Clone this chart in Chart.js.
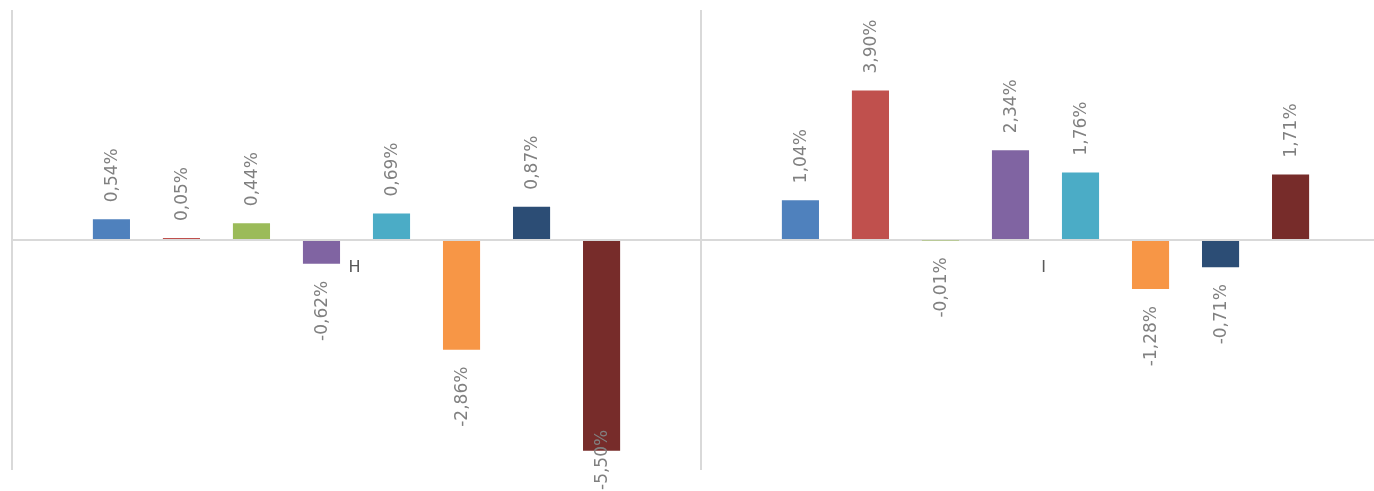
<!DOCTYPE html>
<html>
<head>
<meta charset="utf-8">
<script src="https://cdn.jsdelivr.net/npm/chart.js@4/dist/chart.umd.min.js"></script>
<style>
  html, body { margin: 0; padding: 0; background: #ffffff; overflow: hidden; }
  #wrap { position: relative; width: 1390px; height: 491px; }
</style>
</head>
<body>
<div id="wrap"><canvas id="c"></canvas></div>
<script>
const categories = ['H', 'I'];
const seriesNames = ['Série 1', 'Série 2', 'Série 3', 'Série 4', 'Série 5', 'Série 6', 'Série 7', 'Série 8'];
const s1 = [0.54, 1.04];
const s2 = [0.05, 3.90];
const s3 = [0.44, -0.01];
const s4 = [-0.62, 2.34];
const s5 = [0.69, 1.76];
const s6 = [-2.86, -1.28];
const s7 = [0.87, -0.71];
const s8 = [-5.50, 1.71];
const seriesValues = [s1, s2, s3, s4, s5, s6, s7, s8];
const colors = ['#4F81BD', '#C0504D', '#9BBB59', '#8064A2', '#4BACC6', '#F79646', '#2C4D75', '#772C2A'];
const axisMin = -6, axisMax = 6;

const fmt = v => v.toFixed(2).replace('.', ',') + '%';

const labelPlugin = {
  id: 'labels',
  afterDatasetsDraw(chart) {
    const ctx = chart.ctx;
    const y = chart.scales.y, x = chart.scales.x;
    const zero = y.getPixelForValue(0);
    ctx.save();
    ctx.font = '17px "DejaVu Sans"';
    ctx.fillStyle = '#808080';
    ctx.textBaseline = 'middle';
    chart.data.datasets.forEach((ds, di) => {
      const meta = chart.getDatasetMeta(di);
      meta.data.forEach((bar, i) => {
        const v = ds.data[i];
        const text = fmt(v);
        const w = ctx.measureText(text).width;
        const gap = 17;
        let startY;
        if (v >= 0) {
          startY = bar.y - gap;
        } else {
          startY = bar.y + gap + w;
          if (startY > chart.height - 1) startY = chart.height - 1;
        }
        ctx.save();
        ctx.translate(bar.x + 1, startY);
        ctx.rotate(-Math.PI / 2);
        ctx.textAlign = 'left';
        ctx.fillText(text, 0, 0);
        ctx.restore();
      });
    });
    ctx.font = '16px "DejaVu Sans"';
    ctx.fillStyle = '#595959';
    ctx.textAlign = 'center';
    ctx.textBaseline = 'middle';
    categories.forEach((c, i) => {
      ctx.fillText(c, x.getPixelForValue(i) - 2, zero + 28);
    });
    ctx.restore();
  }
};

new Chart(document.getElementById('c'), {
  type: 'bar',
  data: {
    labels: categories,
    datasets: seriesValues.map((vals, i) => ({
      label: seriesNames[i],
      data: vals,
      backgroundColor: colors[i],
      borderWidth: 0,
      categoryPercentage: 0.813,
      barPercentage: 0.53
    }))
  },
  options: {
    responsive: true,
    maintainAspectRatio: false,
    animation: false,
    layout: { padding: { left: 12, right: 0, top: 10, bottom: 21 } },
    plugins: { legend: { display: false }, tooltip: { enabled: false } },
    scales: {
      x: {
        display: true,
        grid: { offset: true, color: '#d9d9d9', lineWidth: 2, drawTicks: false },
        border: { display: false },
        ticks: { display: false }
      },
      y: {
        display: true,
        min: axisMin,
        max: axisMax,
        ticks: { display: false, stepSize: 1 },
        border: { display: false },
        grid: {
          drawTicks: false,
          lineWidth: 2,
          color: c => (c.tick && c.tick.value === 0) ? '#d9d9d9' : 'rgba(0,0,0,0)'
        }
      }
    }
  },
  plugins: [labelPlugin]
});
</script>
</body>
</html>
